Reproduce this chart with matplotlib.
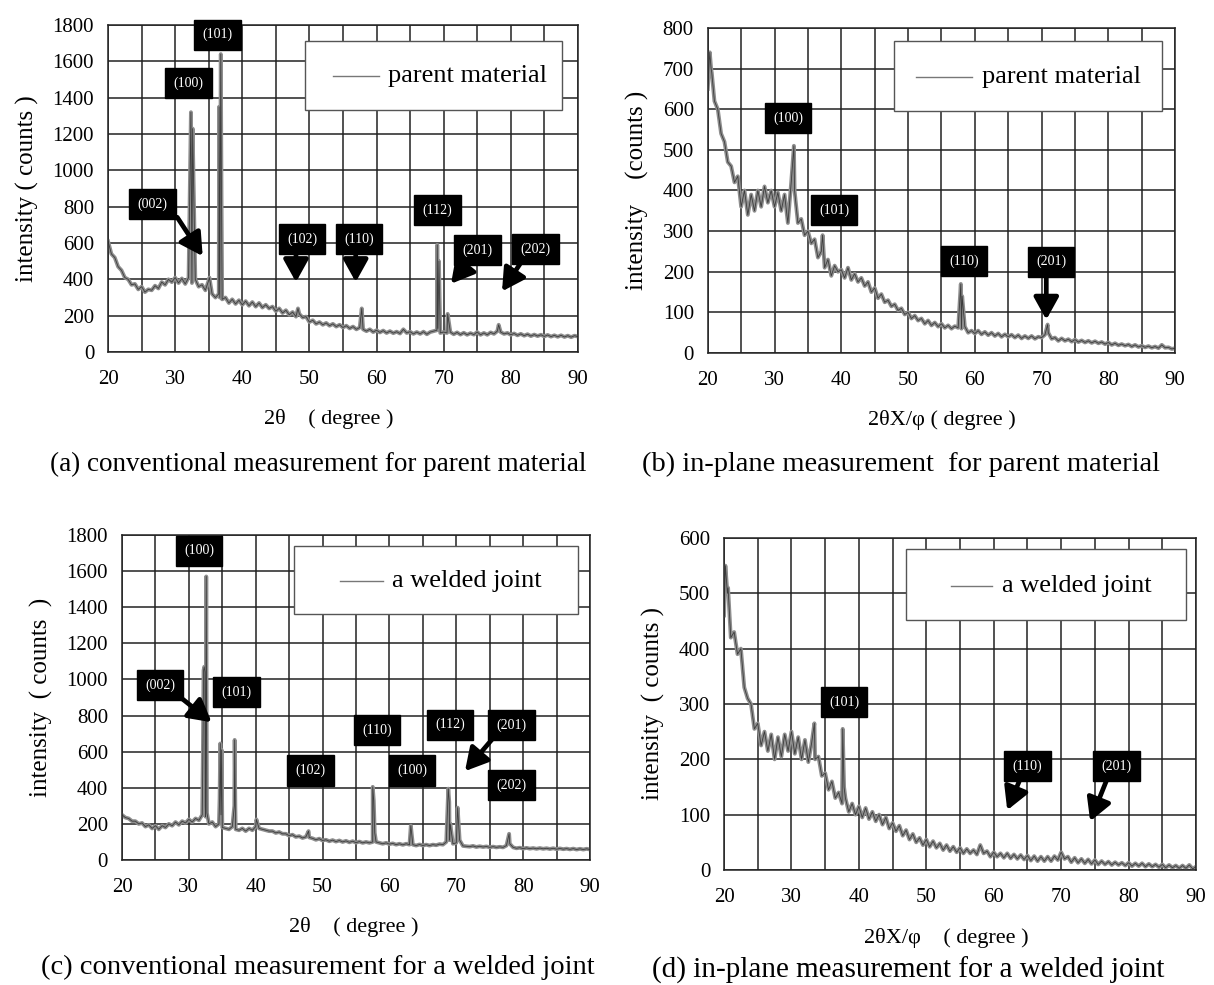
import numpy as np
import matplotlib
matplotlib.use("Agg")
import matplotlib.pyplot as plt
from matplotlib.patches import Rectangle

plt.rcParams['font.family'] = ['Liberation Serif', 'DejaVu Serif']

# ---- data ----
base_x = np.arange(20, 90.01, 0.5)

# (a) conventional, parent material
base_a = [610, 540, 520, 470, 450, 410, 400, 370, 375, 345, 360, 330, 345, 340, 365, 350,
          385, 370, 400, 385, 410, 380, 405, 375, 410, 380, 400, 360, 370, 340, 395, 320,
          300, 320, 290, 300, 270, 290, 265, 285, 260, 280, 255, 275, 250, 270, 245, 260,
          240, 250, 225, 240, 215, 230, 205, 220, 195, 210, 190, 195, 165, 175, 155, 165,
          150, 160, 145, 155, 140, 150, 135, 145, 130, 140, 125, 135, 125, 115, 125, 110,
          120, 108, 118, 105, 115, 104, 112, 102, 125, 105, 112, 100, 110, 100, 112, 98,
          110, 115, 120, 105, 110, 105, 110, 98, 108, 96, 106, 95, 104, 96, 110, 95,
          105, 95, 108, 100, 115, 110, 100, 105, 95, 102, 92, 100, 90, 98, 88, 96,
          88, 95, 86, 94, 85, 92, 84, 92, 83, 90, 82, 90, 85]
peak_a_x = [32.35, 32.6, 35.1, 36.55, 36.65, 36.8, 36.9, 48.3, 57.8, 69.05, 69.15, 69.3, 70.6, 78.2]
peak_a_y = [1320, 1230, 410, 1350, 300, 1640, 870, 240, 240, 590, 130, 500, 210, 150]

# (b) in-plane, parent material
base_b = [650, 700, 620, 600, 540, 520, 470, 460, 420, 435, 360, 400, 340, 390, 350, 400,
          360, 410, 370, 400, 360, 395, 350, 390, 320, 420, 400, 320, 330, 290, 300, 270,
          280, 235, 250, 210, 230, 190, 215, 200, 205, 185, 210, 180, 195, 175, 185, 165,
          175, 150, 160, 135, 145, 125, 130, 115, 120, 105, 110, 95, 100, 85, 92, 80,
          85, 72, 80, 68, 75, 65, 72, 62, 68, 60, 66, 62, 60, 65, 50, 55,
          48, 55, 46, 52, 44, 50, 42, 48, 40, 46, 40, 45, 38, 44, 36, 42,
          36, 42, 35, 40, 38, 45, 50, 35, 38, 30, 36, 30, 34, 28, 33, 27,
          31, 26, 30, 25, 29, 24, 27, 22, 26, 20, 24, 19, 22, 18, 21, 16,
          20, 15, 18, 14, 17, 13, 16, 12, 20, 13, 14, 10, 12]
peak_b_x = [20.3, 20.6, 32.9, 37.2, 57.9, 58.1, 70.9]
peak_b_y = [740, 690, 510, 290, 170, 140, 70]

# (c) conventional, welded joint
base_c = [250, 235, 230, 215, 215, 200, 205, 185, 195, 175, 190, 170, 190, 180, 200, 190,
          210, 195, 215, 205, 225, 210, 230, 220, 250, 240, 200, 210, 185, 200, 180, 175,
          170, 185, 170, 165, 175, 160, 175, 165, 185, 175, 170, 165, 160, 160, 150, 155,
          145, 145, 135, 140, 128, 132, 122, 128, 125, 120, 112, 118, 108, 112, 104, 110,
          102, 108, 100, 106, 98, 104, 96, 102, 95, 100, 95, 100, 100, 95, 90, 95,
          88, 92, 85, 90, 84, 90, 85, 85, 80, 86, 80, 85, 80, 85, 82, 88,
          85, 100, 110, 90, 95, 110, 78, 76, 74, 78, 72, 76, 72, 75, 70, 74,
          70, 73, 70, 80, 90, 70, 65, 68, 63, 67, 63, 66, 62, 66, 62, 65,
          61, 65, 60, 64, 60, 63, 59, 63, 58, 62, 58, 62, 58]
peak_c_x = [32.1, 32.2, 32.3, 32.4, 32.45, 32.6, 32.7, 34.6, 34.7, 34.8, 34.9,
            36.8, 36.85, 36.95, 40.1, 47.9, 57.5, 57.65, 57.8, 63.2, 68.8, 68.95, 69.1,
            70.2, 70.35, 77.9]
peak_c_y = [600, 1050, 1070, 1040, 300, 1570, 260, 340, 645, 250, 610,
            300, 665, 290, 225, 160, 405, 330, 150, 190, 395, 320, 200,
            290, 200, 145]

# (d) in-plane, welded joint
base_d = [460, 500, 420, 430, 390, 400, 330, 310, 300, 255, 265, 225, 250, 215, 245, 200,
          240, 205, 245, 215, 250, 210, 240, 200, 235, 195, 230, 200, 205, 170, 175, 145,
          160, 130, 140, 120, 130, 105, 120, 100, 115, 95, 112, 92, 105, 88, 100, 82,
          95, 75, 85, 70, 80, 62, 72, 55, 65, 50, 58, 45, 55, 42, 52, 40,
          48, 36, 45, 34, 42, 32, 40, 30, 38, 30, 36, 28, 45, 30, 34, 24,
          32, 24, 30, 22, 30, 21, 28, 20, 27, 19, 26, 17, 25, 16, 24, 16,
          24, 16, 25, 18, 32, 20, 24, 14, 22, 13, 20, 12, 19, 11, 18, 10,
          16, 10, 15, 9, 14, 9, 13, 8, 13, 7, 12, 7, 12, 6, 11, 6,
          10, 5, 10, 4, 9, 4, 8, 3, 8, 3, 9, 2, 6]
peak_d_x = [20.2, 20.6, 33.4, 37.6, 37.8]
peak_d_y = [550, 510, 265, 255, 150]

# hkl labels: (text, x, y) and arrows: (tail_x, tail_y, tip_x, tip_y)
labels_a = [("(101)", 36.3, 1747), ("(100)", 32.0, 1479), ("(002)", 26.6, 816),
            ("(102)", 48.9, 623), ("(110)", 57.4, 623), ("(112)", 69.1, 781),
            ("(201)", 75.0, 561), ("(202)", 83.7, 568)]
arrows_a = [(30.3, 742, 34.1, 528), (48.0, 541, 48.0, 385), (56.9, 541, 56.9, 385),
            (73.4, 480, 71.1, 376), (81.4, 486, 78.7, 334)]
labels_b = [("(100)", 32.0, 578), ("(101)", 38.9, 351), ("(110)", 58.4, 227), ("(201)", 71.4, 225)]
arrows_b = [(70.7, 189, 70.7, 82)]
labels_c = [("(100)", 31.5, 1713), ("(002)", 25.7, 970), ("(101)", 37.1, 930),
            ("(110)", 58.1, 718), ("(112)", 69.1, 749), ("(201)", 78.3, 747),
            ("(102)", 48.2, 496), ("(100)", 63.4, 496), ("(202)", 78.3, 416)]
arrows_c = [(29.1, 890, 33.4, 763), (75.3, 666, 71.3, 492)]
labels_d = [("(101)", 37.8, 304), ("(110)", 65.0, 188), ("(201)", 78.2, 188)]
arrows_d = [(63.8, 161, 62.0, 108), (76.7, 161, 74.3, 88)]


def merged(base_y, px, py):
    x = np.concatenate([base_x, px])
    y = np.concatenate([base_y, py])
    order = np.argsort(x, kind='stable')
    return x[order], y[order]


def draw_panel(ax, base_y, px, py, ymax, ystep, labels, arrows, legend_text,
               legend_box, legend_line, ylabel, xlabel, xlabel_x, caption, caption_xy, caption_size):
    x, y = merged(base_y, px, py)
    ax.plot(x, y, color='#8e8e8e', lw=2.8, zorder=2)
    ax.plot(x, y, color='#3c3c3c', lw=0.6, zorder=2)
    ax.set_xlim(20, 90)
    ax.set_ylim(0, ymax)
    ax.set_xticks(np.arange(20, 91, 10))
    ax.set_xticks(np.arange(20, 91, 5), minor=True)
    ax.set_yticks(np.arange(0, ymax + 1, ystep))
    ax.grid(True, which='both', axis='x', color='#222222', lw=1.1)
    ax.grid(True, which='major', axis='y', color='#222222', lw=1.1)
    ax.set_axisbelow(True)
    ax.tick_params(which='both', length=0, labelsize=15)
    ax.tick_params(axis='x', pad=13)
    ax.tick_params(axis='y', pad=10)
    for s in ax.spines.values():
        s.set_color('#222222')
        s.set_linewidth(1.1)
    ax.set_ylabel(ylabel, fontsize=18, labelpad=10)
    ax.set_xlabel(xlabel, fontsize=16)
    ax.xaxis.set_label_coords(xlabel_x, -0.175)

    for txt, lx, ly in labels:
        ax.text(lx, ly, txt, color='white', fontsize=10, ha='center', va='center', zorder=5,
                bbox=dict(boxstyle='square,pad=0.6', fc='black', ec='black'))
    for tx, ty, hx, hy in arrows:
        ax.annotate('', xy=(hx, hy), xytext=(tx, ty), zorder=5,
                    arrowprops=dict(arrowstyle='-|>,head_width=0.5,head_length=0.9',
                                    lw=3.4, color='black', shrinkA=0, shrinkB=0,
                                    mutation_scale=15))

    x0, y0, x1, y1 = legend_box
    ax.add_patch(Rectangle((x0, y0), x1 - x0, y1 - y0, transform=ax.transAxes,
                           fc='white', ec='#555555', lw=1.0, zorder=4))
    lx0, lx1, ly = legend_line
    ax.plot([lx0, lx1], [ly, ly], transform=ax.transAxes, color='#777777', lw=1.0, zorder=5)
    ax.text(lx1 + 0.02, ly, legend_text, transform=ax.transAxes, fontsize=19,
            ha='left', va='center', zorder=5)
    fig.text(caption_xy[0], caption_xy[1], caption, fontsize=caption_size,
             ha='center', va='center')


fig = plt.figure(figsize=(12.14, 9.85), dpi=100)
ax_a = fig.add_axes([0.089, 0.6426, 0.387, 0.332])
ax_b = fig.add_axes([0.583, 0.6416, 0.385, 0.330])
ax_c = fig.add_axes([0.1005, 0.1269, 0.3855, 0.330])
ax_d = fig.add_axes([0.5964, 0.1168, 0.3888, 0.337])

draw_panel(ax_a, base_a, peak_a_x, peak_a_y, 1800, 200, labels_a, arrows_a,
           'parent material', (0.42, 0.741, 0.966, 0.952), (0.478, 0.576, 0.843),
           'intensity ( counts )', '2θ    ( degree )', 0.47,
           '(a) conventional measurement for parent material', (0.262, 0.528), 19.5)
draw_panel(ax_b, base_b, peak_b_x, peak_b_y, 800, 100, labels_b, arrows_b,
           'parent material', (0.399, 0.746, 0.972, 0.959), (0.445, 0.566, 0.850),
           'intensity    (counts )', '2θX/φ ( degree )', 0.50,
           '(b) in-plane measurement  for parent material', (0.742, 0.528), 20.5)
draw_panel(ax_c, base_c, peak_c_x, peak_c_y, 1800, 200, labels_c, arrows_c,
           'a welded joint', (0.368, 0.757, 0.975, 0.967), (0.465, 0.557, 0.857),
           'intensity  ( counts  )', '2θ    ( degree )', 0.496,
           '(c) conventional measurement for a welded joint', (0.262, 0.018), 20.5)
draw_panel(ax_d, base_d, peak_d_x, peak_d_y, 600, 100, labels_d, arrows_d,
           'a welded joint', (0.386, 0.752, 0.978, 0.966), (0.481, 0.568, 0.856),
           'intensity  ( counts )', '2θX/φ    ( degree )', 0.47,
           '(d) in-plane measurement for a welded joint', (0.748, 0.015), 21)

fig.savefig('out.png', dpi=100)
